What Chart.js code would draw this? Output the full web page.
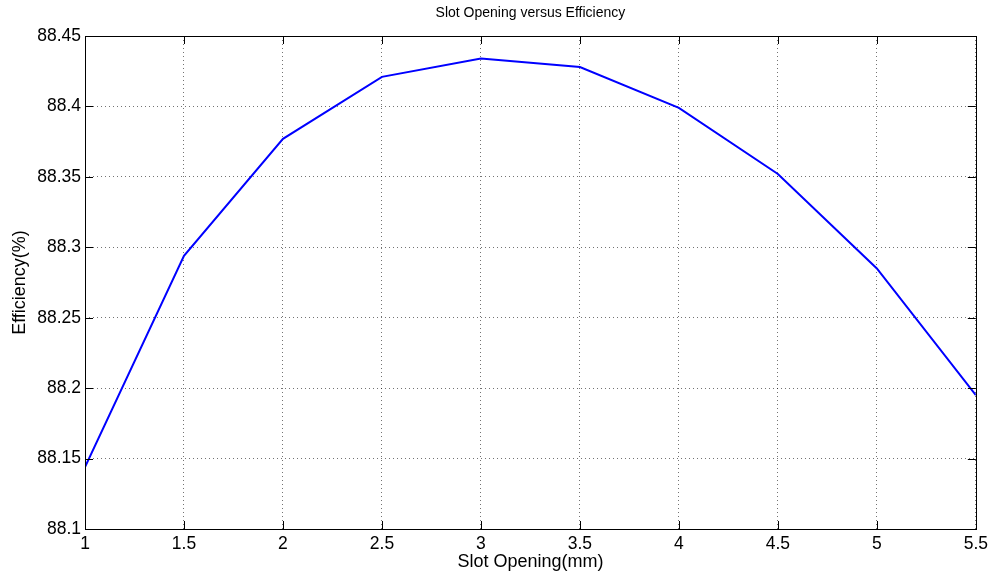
<!DOCTYPE html>
<html>
<head>
<meta charset="utf-8">
<title>Slot Opening versus Efficiency</title>
<script src="https://cdn.jsdelivr.net/npm/chart.js@4"></script>
<style>
  html, body { margin: 0; padding: 0; background: #fff; }
  #wrap { width: 993px; height: 579px; }
</style>
</head>
<body>
<div id="wrap"><canvas id="effChart" width="993" height="579"></canvas></div>
<script>
// slot opening (mm) and the efficiency (%) measured at each width
const slotOpening = [1, 1.5, 2, 2.5, 3, 3.5, 4, 4.5, 5, 5.5];
const efficiency = [88.144, 88.294, 88.377, 88.421, 88.434, 88.428, 88.399, 88.352, 88.285, 88.195];

const xTicks = [1, 1.5, 2, 2.5, 3, 3.5, 4, 4.5, 5, 5.5];
const yTicks = [88.1, 88.15, 88.2, 88.25, 88.3, 88.35, 88.4, 88.45];

const FONT = "Liberation Sans, Arial, sans-serif";

// box around the plot plus short inward tick marks on all four sides
const frame = {
  id: "frame",
  afterDraw(chart) {
    const { ctx, chartArea: a, scales } = chart;
    const len = 8;
    ctx.save();
    ctx.strokeStyle = "#000";
    ctx.lineWidth = 1;
    ctx.beginPath();
    scales.x.ticks.forEach((t) => {
      const px = Math.round(scales.x.getPixelForValue(t.value)) + 0.5;
      ctx.moveTo(px, a.bottom); ctx.lineTo(px, a.bottom - len);
      ctx.moveTo(px, a.top); ctx.lineTo(px, a.top + len);
    });
    scales.y.ticks.forEach((t) => {
      const py = Math.round(scales.y.getPixelForValue(t.value)) + 0.5;
      ctx.moveTo(a.left, py); ctx.lineTo(a.left + len, py);
      ctx.moveTo(a.right, py); ctx.lineTo(a.right - len, py);
    });
    ctx.stroke();
    ctx.strokeRect(Math.round(a.left) + 0.5, Math.round(a.top) + 0.5,
      Math.round(a.right - a.left), Math.round(a.bottom - a.top));
    ctx.restore();
  }
};

const fmt = (v) => String(parseFloat(v.toFixed(2)));

new Chart(document.getElementById("effChart"), {
  type: "line",
  data: {
    datasets: [{
      data: slotOpening.map((x, i) => ({ x: x, y: efficiency[i] })),
      borderColor: "#0000ff",
      borderWidth: 2,
      pointRadius: 0,
      tension: 0,
      fill: false
    }]
  },
  options: {
    responsive: false,
    animation: false,
    layout: { padding: { left: 0, right: 16, top: 0, bottom: 0 } },
    plugins: {
      legend: { display: false },
      tooltip: { enabled: false },
      title: {
        display: true,
        text: "Slot Opening versus Efficiency",
        fullSize: false,
        color: "#000",
        font: { family: FONT, size: 14, weight: "normal" },
        padding: { top: 5, bottom: 14.2 }
      }
    },
    scales: {
      x: {
        type: "linear",
        min: 1,
        max: 5.5,
        afterBuildTicks: (s) => { s.ticks = xTicks.map((v) => ({ value: v })); },
        afterFit: (s) => { s.height = 50; },
        ticks: {
          color: "#000",
          padding: 5,
          maxRotation: 0,
          font: { family: FONT, size: 17.5 },
          callback: (v) => fmt(v)
        },
        grid: {
          color: "rgba(0,0,0,0.55)",
          drawTicks: false
        },
        border: { display: false, dash: [1, 3] },
        title: {
          display: true,
          text: "Slot Opening(mm)",
          color: "#000",
          font: { family: FONT, size: 18 },
          padding: { top: 0, bottom: 6 }
        }
      },
      y: {
        min: 88.1,
        max: 88.45,
        afterBuildTicks: (s) => { s.ticks = yTicks.map((v) => ({ value: v })); },
        afterFit: (s) => { s.width = 85; },
        ticks: {
          color: "#000",
          padding: 4,
          font: { family: FONT, size: 17.5 },
          callback: (v) => fmt(v)
        },
        grid: {
          color: "rgba(0,0,0,0.55)",
          drawTicks: false
        },
        border: { display: false, dash: [1, 3] },
        title: {
          display: true,
          text: "Efficiency(%)",
          color: "#000",
          font: { family: FONT, size: 18 },
          padding: { top: 9, bottom: 0 }
        }
      }
    }
  },
  plugins: [frame]
});
</script>
</body>
</html>
